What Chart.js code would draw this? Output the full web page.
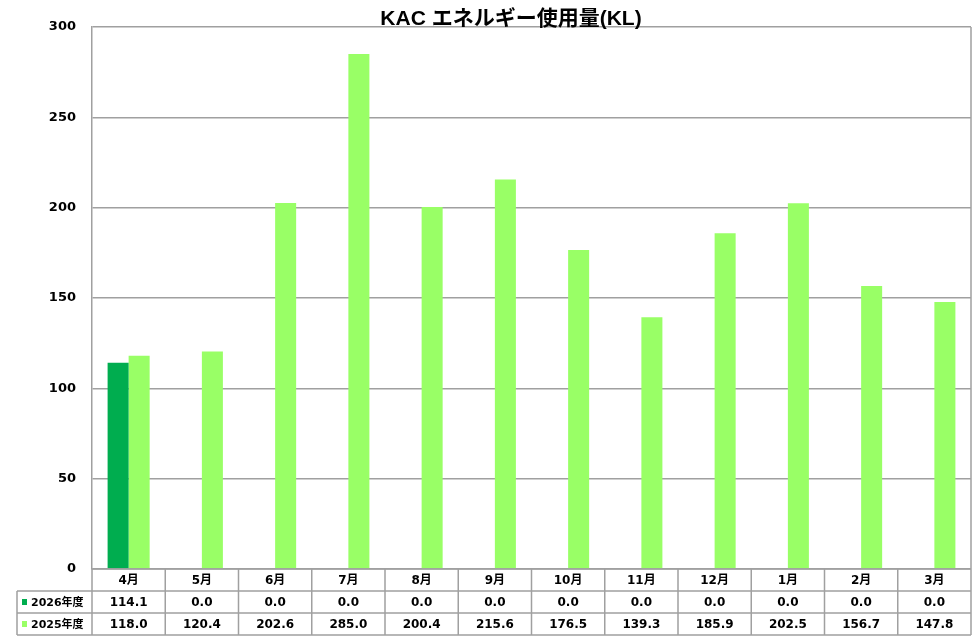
<!DOCTYPE html>
<html>
<head>
<meta charset="utf-8">
<script src="https://cdn.jsdelivr.net/npm/chart.js@4"></script>
<style>
  html, body { margin: 0; padding: 0; background: #fff; }
  #wrap { width: 976px; height: 638px; position: relative; }
</style>
</head>
<body>
<div id="wrap"><canvas id="myChart"></canvas></div>
<script>
const months = ['4月', '5月', '6月', '7月', '8月', '9月', '10月', '11月', '12月', '1月', '2月', '3月'];
const fy2026 = [114.1, 0.0, 0.0, 0.0, 0.0, 0.0, 0.0, 0.0, 0.0, 0.0, 0.0, 0.0];
const fy2025 = [118.0, 120.4, 202.6, 285.0, 200.4, 215.6, 176.5, 139.3, 185.9, 202.5, 156.7, 147.8];
const yTicks = [0, 50, 100, 150, 200, 250, 300];
const titleText = 'KAC エネルギー使用量(KL)';

const FONT = '"Liberation Sans", "Noto Sans CJK JP", sans-serif';
const NUMFONT = '"DejaVu Sans", "Noto Sans CJK JP", sans-serif';
const lineColor = '#a0a0a0';

// title + data table under the x axis
const tablePlugin = {
    id: 'dataTable',
    afterDraw(chart) {
        const c = chart.ctx;
        const area = chart.chartArea;
        const x = chart.scales.x;
        const rowH = 22;
        const top = area.bottom;
        const r1 = top + rowH, r2 = r1 + rowH, r3 = r2 + rowH;
        const leftCol = 17;
        const n = months.length;
        const colW = (area.right - area.left) / n;

        c.save();
        c.strokeStyle = lineColor;
        c.lineWidth = 1.5;
        c.beginPath();
        // right border of plot + table
        c.moveTo(area.right, area.top); c.lineTo(area.right, r3);
        // horizontal rules
        c.moveTo(area.left, top); c.lineTo(area.right, top);
        c.moveTo(leftCol, r1); c.lineTo(area.right, r1);
        c.moveTo(leftCol, r2); c.lineTo(area.right, r2);
        c.moveTo(leftCol, r3); c.lineTo(area.right, r3);
        // verticals
        c.moveTo(leftCol, r1); c.lineTo(leftCol, r3);
        for (let i = 0; i < n; i++) {
            const bx = area.left + colW * i;
            c.moveTo(bx, top); c.lineTo(bx, r3);
        }
        c.stroke();

        const rows = [
            { label: '2026年度', data: fy2026, color: chart.data.datasets[0].backgroundColor, y: (r1 + r2) / 2 },
            { label: '2025年度', data: fy2025, color: chart.data.datasets[1].backgroundColor, y: (r2 + r3) / 2 }
        ];
        c.textBaseline = 'middle';
        rows.forEach(r => {
            c.fillStyle = r.color;
            c.fillRect(22, r.y - 3, 5, 6);
            c.fillStyle = '#000';
            c.textAlign = 'left';
            c.font = 'bold 11px ' + NUMFONT;
            c.fillText(r.label, 31, r.y + 1);
            c.font = 'bold 12px ' + NUMFONT;
            c.textAlign = 'center';
            r.data.forEach((v, i) => {
                c.fillText(v.toFixed(1), x.getPixelForValue(i), r.y + 1);
            });
        });

        // title
        c.font = 'bold 21px ' + FONT;
        c.textAlign = 'center';
        c.textBaseline = 'alphabetic';
        c.fillText(titleText, 511, 25);
        c.restore();
    }
};

const ctx = document.getElementById('myChart');
const myChart = new Chart(ctx, {
    type: 'bar',
    data: {
        labels: months,
        datasets: [{
            label: '2026年度',
            data: fy2026,
            backgroundColor: '#00ad4f',
            categoryPercentage: 0.574,
            barPercentage: 1.0
        }, {
            label: '2025年度',
            data: fy2025,
            backgroundColor: '#99ff66',
            categoryPercentage: 0.574,
            barPercentage: 1.0
        }]
    },
    options: {
        responsive: true,
        maintainAspectRatio: false,
        animation: false,
        devicePixelRatio: 1,
        layout: { padding: { top: 27, right: 5, bottom: 47, left: 0 } },
        plugins: {
            legend: { display: false },
            title: { display: false },
            tooltip: { enabled: false }
        },
        scales: {
            x: {
                grid: { display: false, drawTicks: false },
                border: { display: false },
                ticks: {
                    color: '#000',
                    padding: 5,
                    maxRotation: 0,
                    font: { family: NUMFONT, size: 12, weight: 'bold' }
                },
                afterFit(scale) { scale.height = 22; }
            },
            y: {
                min: 0,
                max: 300,
                afterBuildTicks(scale) { scale.ticks = yTicks.map(v => ({ value: v })); },
                grid: { color: lineColor, lineWidth: 1.5, drawTicks: false },
                border: { color: lineColor, width: 1.5 },
                ticks: {
                    color: '#000',
                    padding: 16,
                    font: { family: NUMFONT, size: 13, weight: 'bold' }
                },
                afterFit(scale) { scale.width = 92; }
            }
        }
    },
    plugins: [tablePlugin]
});
</script>
</body>
</html>
